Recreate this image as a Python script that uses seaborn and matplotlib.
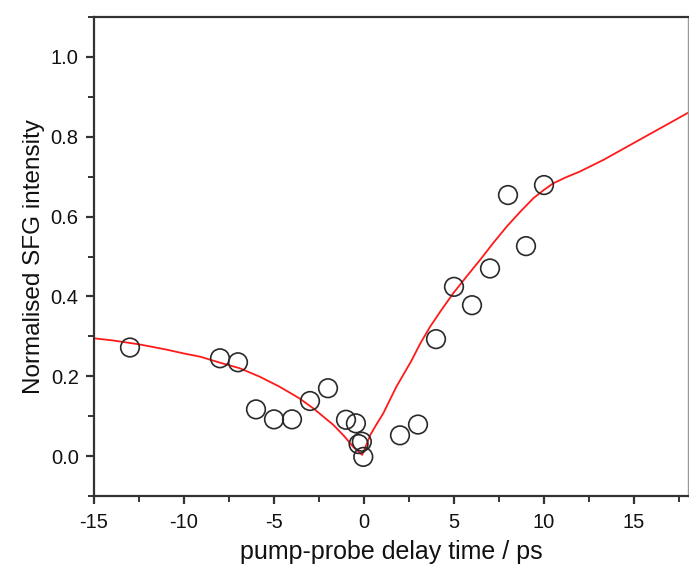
import matplotlib
matplotlib.use("Agg")
import matplotlib.pyplot as plt
import seaborn as sns
import pandas as pd
from matplotlib.ticker import MultipleLocator

# measured data (open circles)
delay_ps = [-13, -8, -7, -6, -5, -4, -3, -2, -1, -0.45, -0.3, -0.12, -0.04,
            2, 3, 4, 5, 6, 7, 8, 9, 10]
sfg_intensity = [0.272, 0.245, 0.235, 0.117, 0.092, 0.092, 0.138, 0.170, 0.091,
                 0.082, 0.030, 0.036, -0.002,
                 0.052, 0.079, 0.293, 0.424, 0.378, 0.470, 0.654, 0.526, 0.679]

# fitted curve (red line)
fit_delay = [-15, -14, -12.5, -11, -10, -9.1, -8, -6.9, -5.8, -4.7, -3.6, -2.8,
             -1.7, -1.1, -0.6, -0.1,
             0.35, 0.7, 1.07, 1.8, 2.2, 2.65, 3.1, 3.67, 4.3, 4.96, 5.7, 6.44,
             7.2, 7.93, 8.7, 9.41, 10.0, 10.5, 11.2, 12, 13.3, 18]
fit_intensity = [0.295, 0.290, 0.280, 0.267, 0.257, 0.249, 0.234, 0.220, 0.199,
                 0.174, 0.145, 0.119, 0.078, 0.050, 0.023, 0.003,
                 0.053, 0.080, 0.107, 0.174, 0.205, 0.240, 0.280, 0.324, 0.366,
                 0.408, 0.450, 0.491, 0.535, 0.575, 0.613, 0.646, 0.667, 0.683,
                 0.698, 0.713, 0.742, 0.860]

x_label = "pump-probe delay time / ps"
y_label = "Normalised SFG intensity"

sns.set_style("ticks")
plt.rcParams["font.family"] = ["Liberation Sans", "DejaVu Sans"]

df_pts = pd.DataFrame({"delay": delay_ps, "sfg": sfg_intensity})
df_fit = pd.DataFrame({"delay": fit_delay, "sfg": fit_intensity})

fig = plt.figure(figsize=(6.89, 5.73), dpi=100)
ax = fig.add_axes([94 / 689, 77 / 573, 594 / 689, 479 / 573])

sns.lineplot(data=df_fit, x="delay", y="sfg", ax=ax, color="#ff1a1a",
             linewidth=1.3, sort=False, zorder=2)
sns.scatterplot(data=df_pts, x="delay", y="sfg", ax=ax, s=180,
                facecolor="none", edgecolor="#2a2a2a", linewidth=1.2, zorder=3)

ax.set_xlim(-15, 18)
ax.set_ylim(-0.1, 1.1)
ax.xaxis.set_minor_locator(MultipleLocator(2.5))
ax.yaxis.set_minor_locator(MultipleLocator(0.1))
ax.set_yticks([0.0, 0.2, 0.4, 0.6, 0.8, 1.0])
ax.set_yticklabels(["0.0", "0.2", "0.4", "0.6", "0.8", "1.0"])
ax.set_xticks([-15, -10, -5, 0, 5, 10, 15])
ax.set_xticklabels(["-15", "-10", "-5", "0", "5", "10", "15"])

for side in ["left", "bottom", "top"]:
    ax.spines[side].set_visible(True)
    ax.spines[side].set_color("#333333")
    ax.spines[side].set_linewidth(1.6)
ax.spines["right"].set_visible(True)
ax.spines["right"].set_color("#999999")
ax.spines["right"].set_linewidth(1.0)

ax.tick_params(axis="both", which="major", direction="out", length=6, width=1.6,
               color="#333333", labelsize=14.5, labelcolor="#111111")
ax.tick_params(axis="x", which="major", pad=6)
ax.tick_params(axis="y", which="major", pad=5)
ax.tick_params(axis="both", which="minor", direction="out", length=4, width=1.4,
               color="#333333")
ax.tick_params(top=False, right=False, which="both")

ax.set_xlabel(x_label, fontsize=18, color="#111111", labelpad=6)
ax.set_ylabel(y_label, fontsize=17.5, color="#111111", labelpad=4)

fig.savefig("out.png", dpi=100)
